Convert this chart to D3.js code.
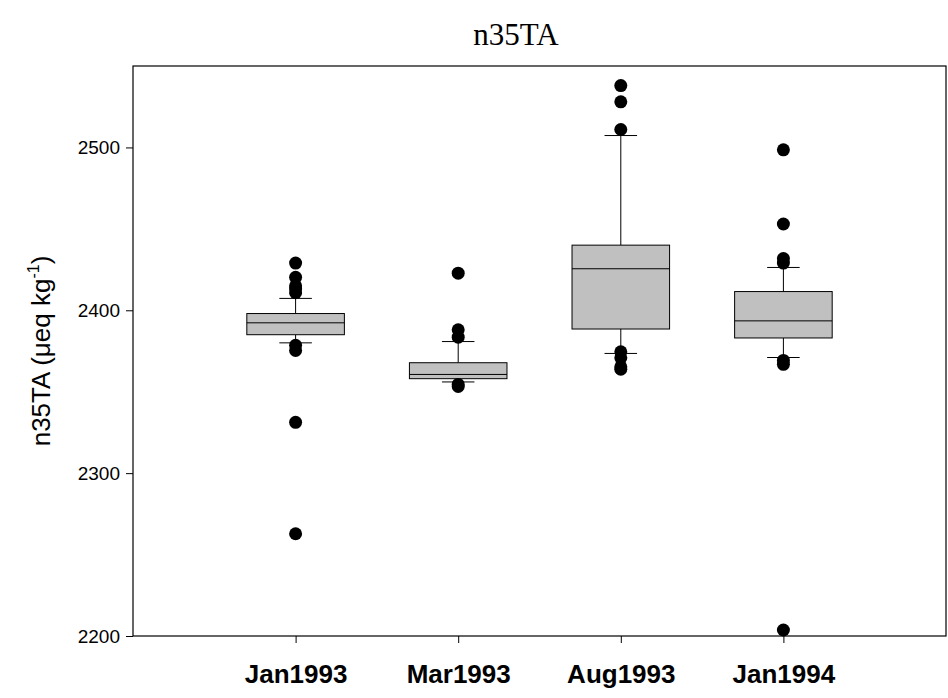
<!DOCTYPE html>
<html>
<head>
<meta charset="utf-8">
<script src="https://cdn.jsdelivr.net/npm/d3@7"></script>
<style>
  body { margin: 0; background: #fff; }
  svg { display: block; }
</style>
</head>
<body>
<svg id="chart" width="948" height="698"></svg>
<script>
// ---- Data ----
const categories = ["Jan1993", "Mar1993", "Aug1993", "Jan1994"];
// box statistics: [lower whisker, Q1, median, Q3, upper whisker]
const whiskerLow  = [2380, 2356, 2373.5, 2371];
const q1Values    = [2385, 2358, 2388.5, 2383];
const medians     = [2392.3, 2360.6, 2425.5, 2393.5];
const q3Values    = [2398, 2367.8, 2440, 2411.5];
const whiskerHigh = [2407.3, 2380.8, 2507.3, 2426.3];
// outliers per category
const outliers = [
  [2429, 2420.3, 2415, 2413, 2410.8, 2378.5, 2375.3, 2331.2, 2262.8],
  [2422.8, 2388, 2383.5, 2354.5, 2353.2],
  [2538, 2528, 2511, 2374.5, 2370.8, 2365.3, 2363.8],
  [2498.5, 2453, 2431.8, 2429, 2369.2, 2366.8, 2203.7]
];
const yTicks = [2200, 2300, 2400, 2500];
const yDomain = [2200, 2550];
const titleText = "n35TA";

// ---- Layout ----
const svg = d3.select("#chart");
const margin = { left: 133, right: 2, top: 66, bottom: 62 };
const W = 948, H = 698;
const x = d3.scaleLinear().domain([0, categories.length + 1]).range([margin.left, W - margin.right]);
const y = d3.scaleLinear().domain(yDomain).range([H - margin.bottom, margin.top]);
const unit = x(1) - x(0);
const boxW = unit * 0.6;
const capW = unit * 0.2;

// frame
svg.append("rect")
  .attr("x", x(0)).attr("y", y(yDomain[1]))
  .attr("width", x(categories.length + 1) - x(0))
  .attr("height", y(yDomain[0]) - y(yDomain[1]))
  .attr("fill", "none").attr("stroke", "#000").attr("stroke-width", 1.2);

// y axis
const yAxis = svg.append("g")
  .attr("transform", `translate(${x(0)},0)`)
  .call(d3.axisLeft(y).tickValues(yTicks).tickSize(7).tickPadding(6).tickFormat(d3.format("d")));
yAxis.select(".domain").remove();
yAxis.selectAll("text").attr("font-family", "Arial, 'Liberation Sans', sans-serif").attr("font-size", 19).attr("fill", "#000");
yAxis.selectAll("line").attr("stroke", "#000");

// x axis
const xAxis = svg.append("g")
  .attr("transform", `translate(0,${y(yDomain[0])})`)
  .call(d3.axisBottom(x).tickValues(categories.map((c, i) => i + 1)).tickSize(7).tickPadding(22)
    .tickFormat((d) => categories[d - 1]));
xAxis.select(".domain").remove();
xAxis.selectAll("text").attr("font-family", "Arial, 'Liberation Sans', sans-serif")
  .attr("font-size", 26).attr("font-weight", "bold").attr("fill", "#000");
xAxis.selectAll("line").attr("stroke", "#000");

// boxes
const g = svg.append("g");
categories.forEach((c, i) => {
  const cx = x(i + 1);
  g.append("line").attr("x1", cx).attr("x2", cx).attr("y1", y(q3Values[i])).attr("y2", y(whiskerHigh[i]))
    .attr("stroke", "#000").attr("stroke-width", 1);
  g.append("line").attr("x1", cx).attr("x2", cx).attr("y1", y(q1Values[i])).attr("y2", y(whiskerLow[i]))
    .attr("stroke", "#000").attr("stroke-width", 1);
  [whiskerHigh[i], whiskerLow[i]].forEach(v => {
    g.append("line").attr("x1", cx - capW / 2).attr("x2", cx + capW / 2).attr("y1", y(v)).attr("y2", y(v))
      .attr("stroke", "#000").attr("stroke-width", 1);
  });
  g.append("rect").attr("x", cx - boxW / 2).attr("width", boxW)
    .attr("y", y(q3Values[i])).attr("height", y(q1Values[i]) - y(q3Values[i]))
    .attr("fill", "#c0c0c0").attr("stroke", "#000").attr("stroke-width", 1);
  g.append("line").attr("x1", cx - boxW / 2).attr("x2", cx + boxW / 2)
    .attr("y1", y(medians[i])).attr("y2", y(medians[i]))
    .attr("stroke", "#000").attr("stroke-width", 1);
  g.selectAll(null).data(outliers[i]).enter().append("circle")
    .attr("cx", cx).attr("cy", d => y(d)).attr("r", 6.5).attr("fill", "#000");
});

// title
svg.append("text").attr("x", 516).attr("y", 45).attr("text-anchor", "middle")
  .attr("font-family", "'Times New Roman', 'Liberation Serif', serif").attr("font-size", 31)
  .attr("fill", "#000").text(titleText);

// y label
const yl = svg.append("text")
  .attr("transform", `translate(50,${(y(yDomain[0]) + y(yDomain[1])) / 2}) rotate(-90)`)
  .attr("text-anchor", "middle")
  .attr("font-family", "Arial, 'Liberation Sans', sans-serif").attr("font-size", 26).attr("fill", "#000");
yl.append("tspan").text("n35TA (μeq kg");
yl.append("tspan").attr("font-size", 16).attr("dy", -11).text("-1");
yl.append("tspan").attr("dy", 11).text(")");
</script>
</body>
</html>
